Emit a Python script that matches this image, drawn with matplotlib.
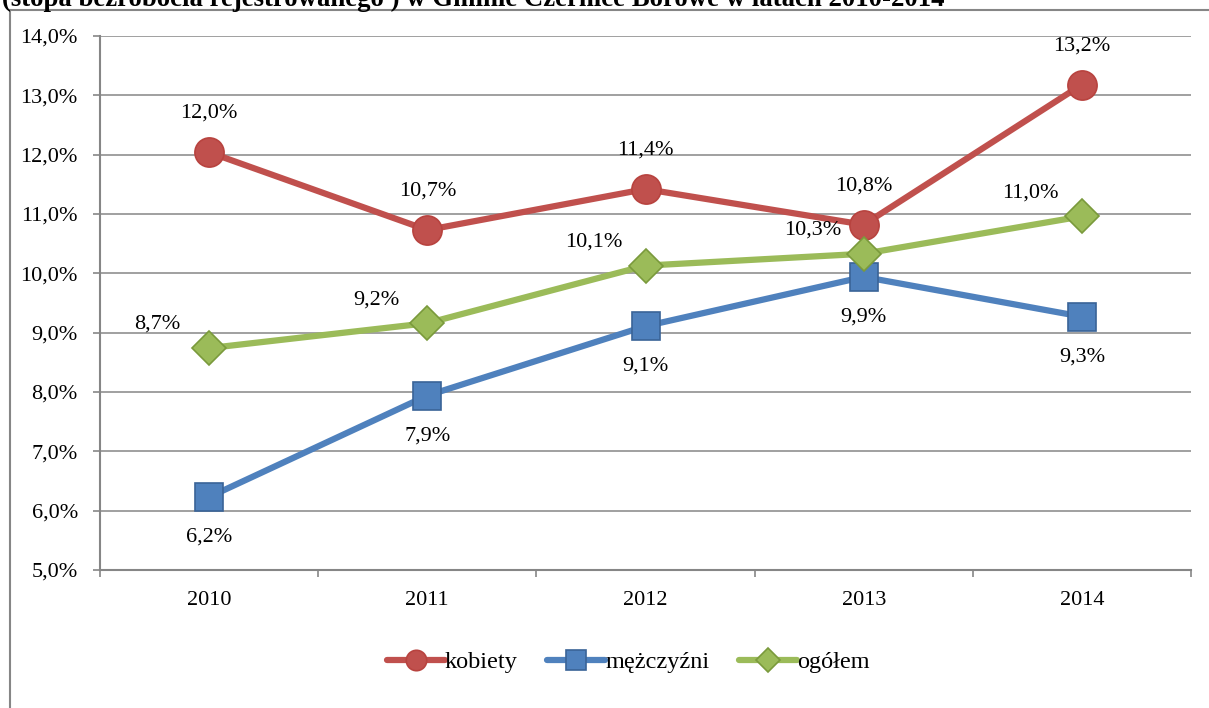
import matplotlib.pyplot as plt
from matplotlib.lines import Line2D

plt.rcParams['font.family'] = ['Liberation Serif', 'DejaVu Serif']

years = ['2010', '2011', '2012', '2013', '2014']
kobiety = [12.04, 10.73, 11.42, 10.82, 13.18]
mezczyzni = [6.23, 7.94, 9.11, 9.94, 9.27]
ogolem = [8.74, 9.16, 10.13, 10.33, 10.96]

title = '(stopa bezrobocia rejestrowanego ) w Gminie Czernice Borowe w latach 2010-2014'

fig = plt.figure(figsize=(12.09, 7.08), dpi=100)
ax = fig.add_axes([100 / 1209, 1 - 570 / 708, 1091 / 1209, 534 / 708])

x = list(range(len(years)))
gray = '#868686'

series = [
    (kobiety, 'kobiety', '#C0504D', '#B8433F', 'o', 21, (0, 28)),
    (mezczyzni, 'mężczyźni', '#4F81BD', '#3A6397', 's', 20, (0, -29)),
    (ogolem, 'ogółem', '#9BBB59', '#7A9A3C', 'D', 17.5, (-37, 17)),
]

for vals, name, col, edge, mk, ms, off in series:
    ax.plot(x, vals, color=col, lw=4.5, marker=mk, markersize=ms,
            markerfacecolor=col, markeredgecolor=edge, markeredgewidth=1.2,
            label=name, solid_capstyle='round', zorder=3)
    for xi, v in zip(x, vals):
        ax.annotate(f'{v:.1f}%'.replace('.', ','), (xi, v), xytext=off,
                    textcoords='offset points', ha='center', va='center',
                    fontsize=16, zorder=5)

ax.set_xlim(-0.5, 4.5)
ax.set_ylim(5, 14)
ax.set_yticks([5, 6, 7, 8, 9, 10, 11, 12, 13, 14])
ax.set_yticklabels([f'{t},0%' for t in range(5, 15)], fontsize=16)
ax.set_xticks(x)
ax.set_xticklabels(years, fontsize=16)
ax.set_xticks([i - 0.5 for i in range(6)], minor=True)
ax.tick_params(axis='x', which='major', length=0, pad=15)
ax.tick_params(axis='x', which='minor', length=5, color=gray, width=1.2)
ax.tick_params(axis='y', length=5, color=gray, width=1.2, pad=11)
ax.grid(axis='y', color=gray, lw=1.1)
ax.set_axisbelow(True)
for s in ['top', 'right']:
    ax.spines[s].set_visible(False)
for s in ['left', 'bottom']:
    ax.spines[s].set_color(gray)
    ax.spines[s].set_linewidth(1.5)

# outer chart frame (partly visible)
fig.add_artist(Line2D([10 / 1209, 10 / 1209], [0, 1 - 10 / 708],
                      transform=fig.transFigure, color=gray, lw=1.5))
fig.add_artist(Line2D([10 / 1209, 1], [1 - 10 / 708, 1 - 10 / 708],
                      transform=fig.transFigure, color=gray, lw=1.5))

# title sits partly above the visible area, as in the source image
fig.text(0.002, 1 - 6 / 708, title, fontsize=19.3, fontweight='bold',
         va='baseline', ha='left')

leg = fig.legend(loc='center', bbox_to_anchor=(628 / 1209, 1 - 662 / 708),
                 ncol=3, frameon=False, fontsize=17.5, handlelength=2.4,
                 handletextpad=0.0, columnspacing=1.2, markerscale=0.7)

fig.savefig('out.png', dpi=100)
